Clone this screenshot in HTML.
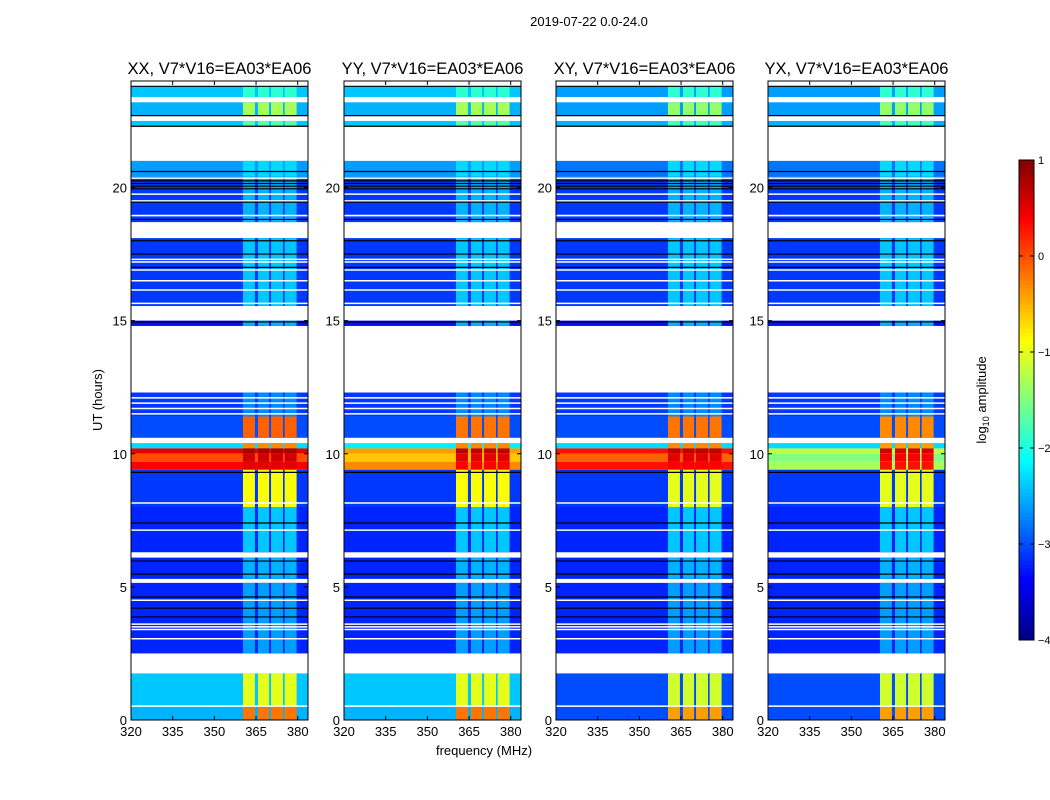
<!DOCTYPE html>
<html><head><meta charset="utf-8">
<style>
body{margin:0;background:#fff;}
svg{display:block;font-family:"Liberation Sans","DejaVu Sans",sans-serif;}
</style></head>
<body>
<svg id="fig" width="1050" height="800" viewBox="0 0 1050 800" xmlns="http://www.w3.org/2000/svg">
<rect width="1050" height="800" fill="#fff"/>
<text x="589" y="26" font-size="13" text-anchor="middle">2019-07-22 0.0-24.0</text>
<text transform="translate(102,400) rotate(-90)" font-size="13" text-anchor="middle">UT (hours)</text>
<text x="484" y="755" font-size="13" text-anchor="middle">frequency (MHz)</text>
<g id="panels"></g>
<g id="cbar"></g>
<text transform="translate(986,400) rotate(-90)" font-size="13" text-anchor="middle">log<tspan font-size="9" dy="3">10</tspan><tspan dy="-3"> amplitude</tspan></text>
</svg>
<script>
// ---- data ----
const panelTitles = ["XX, V7*V16=EA03*EA06","YY, V7*V16=EA03*EA06","XY, V7*V16=EA03*EA06","YX, V7*V16=EA03*EA06"];
const rowStart = [24,23.8,23.4,23.2,22.7,22.5,22.3,21.0,20.4,18.9,18.7,18.1,15.55,15.0,14.8,12.3,11.4,10.6,10.4,10.2,10.0,9.7,9.4,8.0,6.3,6.1,5.3,5.15,2.5,1.75,0.5];
const rowEnd   = [23.8,23.4,23.2,22.7,22.5,22.3,21.0,20.4,18.9,18.7,18.1,15.55,15.0,14.8,12.3,11.4,10.6,10.4,10.2,10.0,9.7,9.4,8.0,6.3,6.1,5.3,5.15,2.5,1.75,0.5,0];
const baseXX = [null,-2.4,null,-2.5,null,-2.4,null,-2.6,-3.1,-3.1,null,-3.1,null,-3.3,null,-3.1,-3.0,null,-2.3,0.5,0.0,0.4,-3.1,-3.2,null,-3.2,null,-3.2,null,-2.4,-2.5];
const rfiXX  = [null,-1.9,null,-1.3,null,-1.7,null,-2.3,-2.5,-2.5,null,-2.4,null,-2.5,null,-2.7,-0.1,null,-0.3,0.8,0.6,0.5,-0.9,-2.4,null,-2.5,null,-2.6,null,-1.0,-0.2];
const baseYY = [null,-2.4,null,-2.5,null,-2.4,null,-2.6,-3.1,-3.1,null,-3.1,null,-3.3,null,-3.1,-3.0,null,-2.2,-0.4,-0.6,-0.3,-3.1,-3.2,null,-3.2,null,-3.2,null,-2.4,-2.5];
const rfiYY  = [null,-1.9,null,-1.3,null,-1.7,null,-2.3,-2.5,-2.5,null,-2.4,null,-2.5,null,-2.7,-0.2,null,-0.3,0.7,0.5,0.4,-0.9,-2.4,null,-2.5,null,-2.6,null,-1.0,-0.2];
const baseXY = [null,-2.6,null,-2.6,null,-2.5,null,-2.8,-3.1,-3.1,null,-3.1,null,-3.3,null,-3.1,-3.0,null,-2.3,0.3,-0.1,0.3,-3.1,-3.2,null,-3.2,null,-3.2,null,-3.0,-3.0];
const rfiXY  = [null,-1.9,null,-1.4,null,-1.8,null,-2.3,-2.5,-2.5,null,-2.4,null,-2.5,null,-2.7,-0.2,null,-0.3,0.7,0.5,0.4,-1.0,-2.4,null,-2.5,null,-2.6,null,-1.1,-0.4];
const baseYX = [null,-2.6,null,-2.6,null,-2.5,null,-2.8,-3.1,-3.1,null,-3.1,null,-3.3,null,-3.1,-3.0,null,-2.3,-1.2,-1.5,-1.3,-3.1,-3.2,null,-3.2,null,-3.2,null,-3.0,-3.0];
const rfiYX  = [null,-1.9,null,-1.4,null,-1.8,null,-2.3,-2.5,-2.5,null,-2.4,null,-2.5,null,-2.7,-0.3,null,-0.4,0.6,0.4,0.3,-1.0,-2.4,null,-2.5,null,-2.6,null,-1.1,-0.4];
const rfiChanStart = [360.3,365.7,370.4,375.3];
const rfiChanEnd   = [364.6,369.7,374.7,379.6];
const whiteLines = [20.35,19.75,19.5,18.95,17.3,17.2,16.9,16.5,16.15,15.65,12.1,11.9,11.7,11.5,8.15,7.13,4.5,3.6,3.5,3.4,3.05,0.52];
const blackLines = [23.8,22.7,22.3,20.6,20.25,20.15,20.05,19.95,19.45,18.8,18.0,17.5,17.0,14.95,9.3,7.4,5.97,5.48,4.62,4.2,3.87];
const xTicks = [320,335,350,365,380];
const yTicks = [0,5,10,15,20];
const cbTicks = [1,0,-1,-2,-3,-4];
const cbLabels = ["1","0","\u22121","\u22122","\u22123","\u22124"];
// ---- layout ----
const panelX = [131,344,556,768], PW=177, PT=81, PB=720;
const FMIN=320, FMAX=383.7, HMIN=0, HMAX=24, VMIN=-4, VMAX=1;
const NS="http://www.w3.org/2000/svg";
function jet(v){
  let t=(v-VMIN)/(VMAX-VMIN); t=Math.max(0,Math.min(1,t));
  const f=x=>Math.max(0,Math.min(1,x));
  const r=f(1.5-Math.abs(4*t-3)), g=f(1.5-Math.abs(4*t-2)), b=f(1.5-Math.abs(4*t-1));
  return `rgb(${Math.round(r*255)},${Math.round(g*255)},${Math.round(b*255)})`;
}
function mk(tag,attrs,parent){const e=document.createElementNS(NS,tag);for(const k in attrs)e.setAttribute(k,attrs[k]);parent.appendChild(e);return e;}
const bases=[baseXX,baseYY,baseXY,baseYX], rfis=[rfiXX,rfiYY,rfiXY,rfiYX];
const root=document.getElementById('panels');
panelX.forEach((px,pi)=>{
  const xs=f=>px+(f-FMIN)/(FMAX-FMIN)*PW;
  const ys=h=>PB-(h-HMIN)/(HMAX-HMIN)*(PB-PT);
  const g=mk('g',{},root);
  
  
  const t=mk('text',{x:px+PW/2,y:74,'font-size':'16.5','text-anchor':'middle'},g);
  t.textContent=panelTitles[pi];
  
  
  const hm=mk('g',{},g);
  
  
  rowStart.forEach((hs,ri)=>{
    const b=bases[pi][ri]; if(b===null) return;
    const y0=ys(hs), y1=ys(rowEnd[ri]);
    const r=mk('rect',{x:px,y:y0,width:PW,height:y1-y0,fill:jet(b)},hm);
    
    
    rfiChanStart.forEach((fs,ci)=>{
      const c=mk('rect',{x:xs(fs),y:y0,width:xs(rfiChanEnd[ci])-xs(fs),height:y1-y0,fill:jet(rfis[pi][ri])},hm);
      
      
    });
  });
  whiteLines.forEach(h=>{
    const l=mk('line',{x1:px,x2:px+PW,y1:ys(h),y2:ys(h),stroke:'#fff','stroke-width':1.5},hm);
    
    
  });
  blackLines.forEach(h=>{
    const l=mk('line',{x1:px,x2:px+PW,y1:ys(h),y2:ys(h),stroke:'#000','stroke-width':1.2},hm);
    
    
  });
  const fr=mk('rect',{x:px,y:PT,width:PW,height:PB-PT,fill:'none',stroke:'#000','stroke-width':1},g);
  
  
  xTicks.forEach(v=>{
    const x=xs(v);
    mk('line',{x1:x,x2:x,y1:PB,y2:PB-4,stroke:'#000'},g);
    mk('line',{x1:x,x2:x,y1:PT,y2:PT+4,stroke:'#000'},g);
    const tl=mk('text',{x:x,y:PB+16,'font-size':'13','text-anchor':'middle'},g);
    tl.textContent=v;
    
    
  });
  yTicks.forEach(v=>{
    const y=ys(v);
    mk('line',{x1:px,x2:px+4,y1:y,y2:y,stroke:'#000'},g);
    mk('line',{x1:px+PW,x2:px+PW-4,y1:y,y2:y,stroke:'#000'},g);
    const tl=mk('text',{x:px-4,y:y+5,'font-size':'13','text-anchor':'end'},g);
    tl.textContent=v;
    
    
  });
});
// colorbar
const cb=document.getElementById('cbar');
const CX=1019,CW=15,CT=160,CB=640;
const cy=v=>CB-(v-VMIN)/(VMAX-VMIN)*(CB-CT);
for(let i=0;i<120;i++){
  const v0=VMIN+i*(VMAX-VMIN)/120, v1=VMIN+(i+1)*(VMAX-VMIN)/120;
  const r=mk('rect',{x:CX,y:cy(v1),width:CW,height:cy(v0)-cy(v1)+0.5,fill:jet((v0+v1)/2)},cb);
  
  
}
mk('rect',{x:CX,y:CT,width:CW,height:CB-CT,fill:'none',stroke:'#000'},cb);
cbTicks.forEach((v,i)=>{
  const y=cy(v);
  mk('line',{x1:CX,x2:CX+4,y1:y,y2:y,stroke:'#000'},cb);
  mk('line',{x1:CX+CW,x2:CX+CW-4,y1:y,y2:y,stroke:'#000'},cb);
  const tl=mk('text',{x:CX+CW+4,y:y+4,'font-size':'11'},cb);
  tl.textContent=cbLabels[i];
  
  
});
</script>
</body></html>
